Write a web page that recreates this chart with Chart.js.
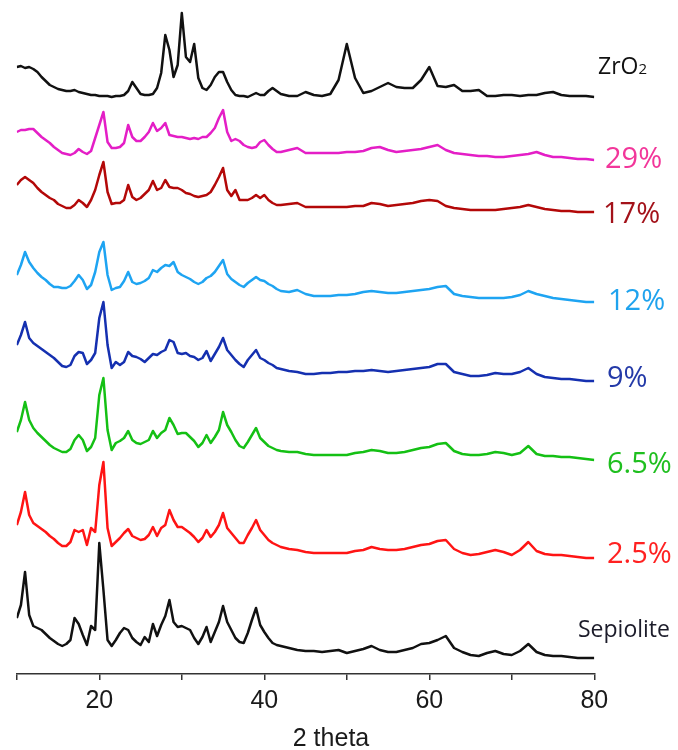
<!DOCTYPE html>
<html>
<head>
<meta charset="utf-8">
<script src="https://cdn.jsdelivr.net/npm/chart.js@4.4.1/dist/chart.umd.min.js"></script>
<style>
  html, body { margin: 0; padding: 0; background: #fff; }
  #xrd { display: block; }
</style>
</head>
<body>
<canvas id="xrd" width="678" height="750"></canvas>
<script>
// XRD patterns, stacked: 2 theta positions (degrees)
const theta = [10, 10.5, 11, 11.5, 12, 12.5, 13, 13.5, 14, 14.5, 15, 15.5, 16, 16.5, 17, 17.5, 18, 18.5, 19, 19.5,
  20, 20.5, 21, 21.5, 22, 22.5, 23, 23.5, 24, 24.5, 25, 25.5, 26, 26.5, 27, 27.5, 28, 28.5, 29, 29.5,
  30, 30.5, 31, 31.5, 32, 32.5, 33, 33.5, 34, 34.5, 35, 35.5, 36, 36.5, 37, 37.5, 38, 38.5, 39, 39.5,
  40, 40.5, 41, 41.5, 42, 43, 44, 45, 46, 47, 48, 49, 50, 51, 52, 53, 54, 55, 56, 57, 58, 59, 60,
  61, 62, 63, 64, 65, 66, 67, 68, 69, 70, 71, 72, 73, 74, 75, 76, 77, 78, 79, 80];

// intensities (a.u.) of each sample
const zro2 = [30, 31, 29, 30, 28, 25, 20, 16, 12, 10, 8, 7, 6, 6, 7, 5, 4, 3, 2, 2,
  1, 1, 1, 0, 1, 1, 2, 6, 15, 9, 3, 2, 2, 3, 9, 24, 62, 47, 20, 32,
  84, 40, 35, 53, 19, 9, 7, 12, 20, 25, 25, 15, 7, 2, 1, 1, 0, 2, 4, 2,
  2, 6, 9, 6, 3, 1, 1, 5, 2, 1, 3, 17, 53, 19, 4, 6, 10, 14, 10, 9, 9, 17, 30,
  11, 10, 12, 6, 6, 7, 1, 1, 2, 2, 1, 2, 2, 4, 5, 2, 1, 1, 1, 0];
const s29 = [28, 30, 30, 31, 31, 27, 23, 20, 17, 13, 10, 7, 6, 5, 7, 11, 8, 6, 9, 22,
  35, 48, 18, 12, 12, 13, 17, 35, 23, 19, 19, 23, 28, 37, 29, 32, 37, 25, 24, 23,
  23, 22, 21, 22, 21, 23, 23, 27, 32, 42, 50, 28, 19, 21, 19, 15, 13, 12, 13, 18,
  20, 15, 11, 8, 8, 10, 12, 7, 7, 7, 7, 7, 8, 8, 9, 12, 13, 10, 8, 9, 10, 11, 13,
  15, 10, 7, 6, 5, 4, 4, 3, 3, 4, 5, 6, 8, 5, 3, 3, 2, 1, 1, 0];
const s17 = [27, 32, 35, 32, 29, 24, 20, 17, 14, 12, 8, 6, 4, 4, 7, 12, 9, 5, 12, 22,
  37, 50, 20, 8, 9, 9, 12, 27, 15, 12, 14, 18, 22, 31, 22, 24, 32, 25, 24, 24,
  22, 19, 18, 16, 15, 16, 17, 20, 27, 35, 44, 22, 16, 22, 12, 12, 12, 14, 17, 14,
  17, 12, 9, 7, 7, 8, 9, 5, 5, 5, 5, 5, 5, 6, 6, 9, 8, 6, 7, 8, 9, 11, 12,
  11, 6, 4, 3, 2, 2, 2, 2, 3, 4, 5, 7, 5, 3, 2, 1, 1, 0, 0, 0];
const s12 = [27, 37, 50, 40, 34, 29, 25, 22, 18, 15, 15, 14, 14, 16, 21, 27, 22, 13, 17, 30,
  50, 60, 27, 12, 14, 15, 21, 30, 20, 18, 19, 21, 24, 32, 30, 34, 37, 36, 40, 30,
  27, 25, 23, 20, 18, 20, 24, 26, 30, 36, 42, 28, 23, 20, 17, 15, 19, 22, 25, 22,
  21, 18, 16, 13, 11, 10, 12, 8, 6, 6, 6, 7, 7, 8, 10, 11, 10, 9, 9, 10, 11, 12, 13,
  15, 16, 8, 6, 5, 4, 4, 4, 4, 5, 7, 11, 8, 6, 4, 3, 2, 1, 0, 0];
const s9 = [36, 46, 59, 43, 38, 35, 32, 29, 26, 23, 19, 15, 14, 16, 25, 29, 28, 17, 21, 28,
  63, 79, 36, 13, 19, 16, 19, 29, 25, 24, 22, 19, 23, 27, 26, 29, 31, 41, 39, 28,
  27, 28, 25, 24, 21, 23, 30, 20, 27, 34, 43, 31, 26, 21, 17, 14, 21, 26, 31, 23,
  21, 18, 16, 13, 12, 10, 9, 7, 7, 8, 8, 9, 9, 10, 10, 11, 10, 9, 10, 11, 12, 13, 14,
  17, 17, 9, 7, 5, 5, 6, 8, 7, 7, 9, 13, 7, 4, 3, 2, 2, 1, 0, 0];
const s65 = [28, 40, 58, 40, 32, 27, 23, 19, 15, 12, 10, 8, 8, 11, 20, 25, 20, 9, 13, 22,
  65, 82, 30, 10, 17, 19, 22, 29, 20, 17, 16, 18, 20, 29, 22, 27, 30, 42, 35, 26,
  27, 27, 23, 19, 13, 17, 25, 17, 23, 30, 48, 35, 28, 20, 14, 12, 18, 25, 32, 22,
  18, 14, 12, 10, 9, 8, 8, 6, 5, 5, 5, 5, 5, 7, 8, 10, 9, 7, 7, 8, 10, 12, 13,
  16, 17, 9, 6, 5, 5, 6, 8, 7, 5, 7, 14, 6, 4, 4, 3, 3, 2, 1, 0];
const s25 = [33, 46, 66, 43, 35, 32, 29, 26, 22, 19, 15, 12, 12, 16, 28, 26, 28, 13, 30, 26,
  73, 96, 30, 12, 16, 20, 25, 29, 22, 20, 18, 19, 23, 31, 22, 30, 33, 48, 38, 31,
  31, 28, 25, 21, 16, 20, 28, 21, 26, 33, 45, 30, 25, 20, 15, 15, 23, 30, 38, 28,
  23, 18, 15, 13, 11, 9, 8, 6, 5, 5, 5, 5, 5, 7, 8, 11, 9, 8, 8, 9, 11, 13, 14,
  17, 18, 9, 5, 3, 4, 6, 8, 6, 3, 8, 16, 7, 4, 3, 3, 2, 1, 0, 0];
const sepiolite = [40, 53, 86, 43, 32, 30, 28, 24, 20, 17, 14, 12, 14, 18, 40, 34, 23, 13, 32, 28,
  115, 68, 18, 12, 18, 25, 30, 28, 20, 16, 13, 21, 16, 34, 22, 33, 42, 58, 36, 31,
  32, 30, 28, 20, 14, 21, 31, 16, 26, 36, 52, 36, 28, 20, 16, 15, 25, 38, 50, 33,
  26, 20, 15, 13, 12, 10, 8, 7, 7, 6, 7, 8, 5, 7, 9, 12, 8, 6, 6, 8, 10, 14, 15,
  18, 22, 10, 6, 3, 2, 5, 7, 4, 3, 7, 14, 6, 3, 2, 2, 1, 0, 0, 0];

// sample names, vertical offsets used for stacking, colours
const samples = ["ZrO2", "29%", "17%", "12%", "9%", "6.5%", "2.5%", "Sepiolite"];
const offsets = [577, 514, 462, 372, 293, 214, 116, 16];
const series = [zro2, s29, s17, s12, s9, s65, s25, sepiolite];
const lineColors = ["#111111", "#e41ec6", "#b30808", "#1ea4f2", "#1530b0", "#14c014", "#ff1414", "#111111"];
const textColors = ["#111111", "#f2369a", "#a3121a", "#1fa3ee", "#243aa8", "#1fbf1f", "#ff2121", "#1c1c2a"];

// where the sample names sit (canvas pixels: left, baseline, font size)
const labelLayout = [
  [598, 74, 23], [605, 168, 29], [603, 223, 29], [608, 310, 29],
  [607, 387, 29], [607, 473, 29], [607, 563, 29], [578, 637, 23]
];

// Datensätze zusammenbauen
const datasets = series.map(function(values, k) {
  return {
    label: samples[k],
    data: theta.map(function(t, i) { return { x: t, y: offsets[k] + values[i] }; }),
    borderColor: lineColors[k],
    borderWidth: 2.5,
    borderJoinStyle: "round",
    pointRadius: 0,
    tension: 0,
    fill: false
  };
});

// Beschriftungen rechts + Achsentitel
const textPlugin = {
  id: "sampleText",
  afterDraw: function(chart) {
    const ctx = chart.ctx;
    ctx.save();
    ctx.textBaseline = "alphabetic";
    ctx.textAlign = "left";
    samples.forEach(function(name, k) {
      const pos = labelLayout[k];
      ctx.fillStyle = textColors[k];
      ctx.font = pos[2] + "px 'Open Sans'";
      if (name === "ZrO2") {
        ctx.fillText("ZrO", pos[0], pos[1]);
        const w = ctx.measureText("ZrO").width;
        ctx.font = "15px 'Open Sans'";
        ctx.fillText("2", pos[0] + w, pos[1]);
      } else {
        ctx.fillText(name, pos[0], pos[1], 676 - pos[0]);
      }
    });
    // axis title
    ctx.fillStyle = "#1a1a1a";
    ctx.font = "25px 'Liberation Sans', Arial, sans-serif";
    ctx.textAlign = "center";
    ctx.fillText("2 theta", 331, 746);
    ctx.restore();
  }
};

const ctx = document.getElementById("xrd").getContext("2d");
new Chart(ctx, {
  type: "line",
  data: { datasets: datasets },
  options: {
    responsive: false,
    animation: false,
    devicePixelRatio: 1,
    layout: { padding: { left: 16.8, right: 83.7, top: 0, bottom: 0 } },
    plugins: { legend: { display: false }, tooltip: { enabled: false } },
    scales: {
      x: {
        type: "linear",
        min: 10,
        max: 80,
        afterFit: function(scale) { scale.height = 76; },
        border: { display: true, color: "#333333", width: 1.5 },
        grid: { display: true, drawOnChartArea: false, drawTicks: true, tickLength: 6, color: "#333333", lineWidth: 1.5 },
        ticks: {
          stepSize: 10,
          autoSkip: false,
          maxRotation: 0,
          padding: 6,
          color: "#1a1a1a",
          font: { family: "'Liberation Sans', Arial, sans-serif", size: 25 },
          callback: function(v) { return v % 20 === 0 ? v : ""; }
        }
      },
      y: { display: false, min: 0, max: 674 }
    }
  },
  plugins: [textPlugin]
});
</script>
</body>
</html>
